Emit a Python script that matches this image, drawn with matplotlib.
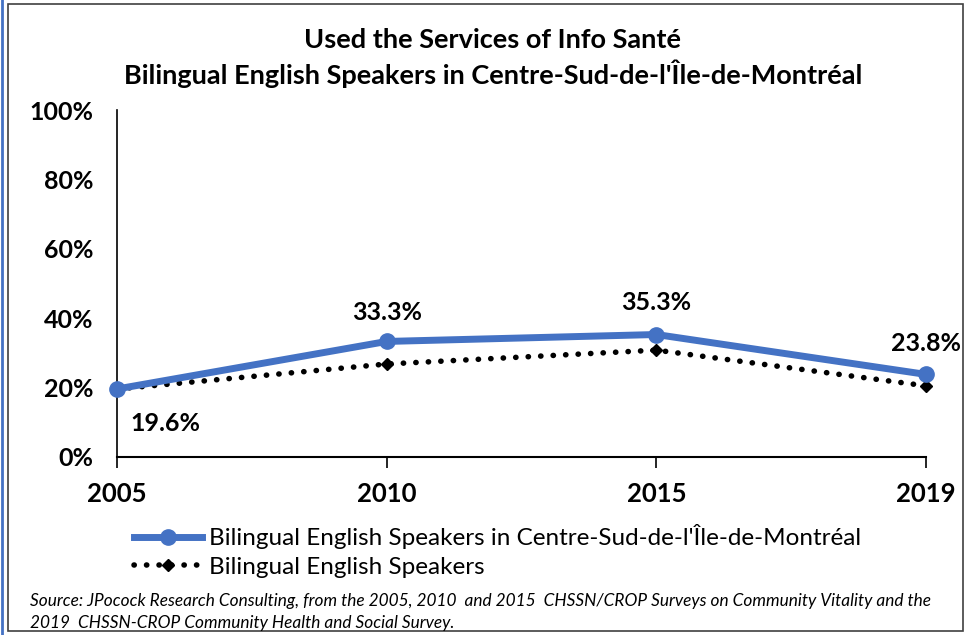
import matplotlib
matplotlib.use("Agg")
import matplotlib.pyplot as plt
from matplotlib.patches import Rectangle
from matplotlib.lines import Line2D
import matplotlib.font_manager as fm

years = ["2005", "2010", "2015", "2019"]
centre_sud = [19.6, 33.3, 35.3, 23.8]
bilingual_all = [19.6, 26.8, 30.8, 20.5]
yticks = [0, 20, 40, 60, 80, 100]

names = {f.name for f in fm.fontManager.ttflist}
fam = [f for f in ["Liberation Sans Narrow", "Lato", "DejaVu Sans"] if f in names]
plt.rcParams['font.family'] = fam

title = "Used the Services of Info Santé\nBilingual English Speakers in Centre-Sud-de-l'Île-de-Montréal"
source = ("Source: JPocock Research Consulting, from the 2005, 2010  and 2015  CHSSN/CROP Surveys on Community Vitality and the\n"
          "2019  CHSSN-CROP Community Health and Social Survey.")

W, H = 975, 635
fig = plt.figure(figsize=(W / 100, H / 100), dpi=100)
fig.patch.set_facecolor("white")

# frame
fig.add_artist(Rectangle((8 / W, 4 / H), 955 / W, 627 / H, transform=fig.transFigure,
                         fill=False, edgecolor="#404040", linewidth=1.2))
fig.add_artist(Line2D([1.5 / W, 1.5 / W], [0, 1], transform=fig.transFigure,
                      color="#4472C4", linewidth=2))

ax = fig.add_axes([117 / W, 1 - 457 / H, (926 - 117) / W, (457 - 110) / H])
x = list(range(len(years)))
ax.plot(x, bilingual_all, color="black", linestyle=(0, (0.05, 2.2)), linewidth=4,
        marker="D", markersize=6, dash_capstyle="round", label="Bilingual English Speakers", zorder=2)
ax.plot(x, centre_sud, color="#4472C4", linewidth=5, marker="o", markersize=11,
        label="Bilingual English Speakers in Centre-Sud-de-l'Île-de-Montréal", zorder=3)

ax.set_xlim(0, 3)
ax.set_ylim(0, 100)
ax.set_xticks(x)
ax.set_xticklabels(years, fontsize=18.5, fontweight="bold")
ax.set_yticks(yticks)
ax.set_yticklabels([f"{v}%" for v in yticks], fontsize=18, fontweight="bold")
ax.tick_params(axis="y", length=0, pad=17)
ax.tick_params(axis="x", length=8, width=1.2, color="black", pad=10, direction="out")
for s in ["top", "right"]:
    ax.spines[s].set_visible(False)
ax.spines["left"].set_color("black")
ax.spines["left"].set_linewidth(1.2)
ax.spines["bottom"].set_color("black")
ax.spines["bottom"].set_linewidth(1.5)
for l in ax.lines:
    l.set_clip_on(False)

# data labels
offsets = [(35, -25), (0, 21), (0, 23), (0, 22)]
for i, (v, off) in enumerate(zip(centre_sud, offsets)):
    ax.annotate(f"{v:.1f}%", (i, v), xytext=off, textcoords="offset points", ha="center",
                va="center", fontsize=18, fontweight="bold")

fig.text(493 / W, 1 - 58 / H, title, ha="center", va="center", fontsize=19.5,
         fontweight="bold", linespacing=1.3)

h, lab = ax.get_legend_handles_labels()
leg = fig.legend(h[::-1], lab[::-1], loc="center left", bbox_to_anchor=(124 / W, 1 - 551 / H),
                 frameon=False, fontsize=17.5, handlelength=2.8, handletextpad=0.3,
                 labelspacing=0.3, borderaxespad=0)

fig.text(30 / W, 1 - 612 / H, source, ha="left", va="center", fontsize=12.4,
         style="italic", linespacing=1.5)

fig.savefig("out.png", dpi=100, facecolor="white")
